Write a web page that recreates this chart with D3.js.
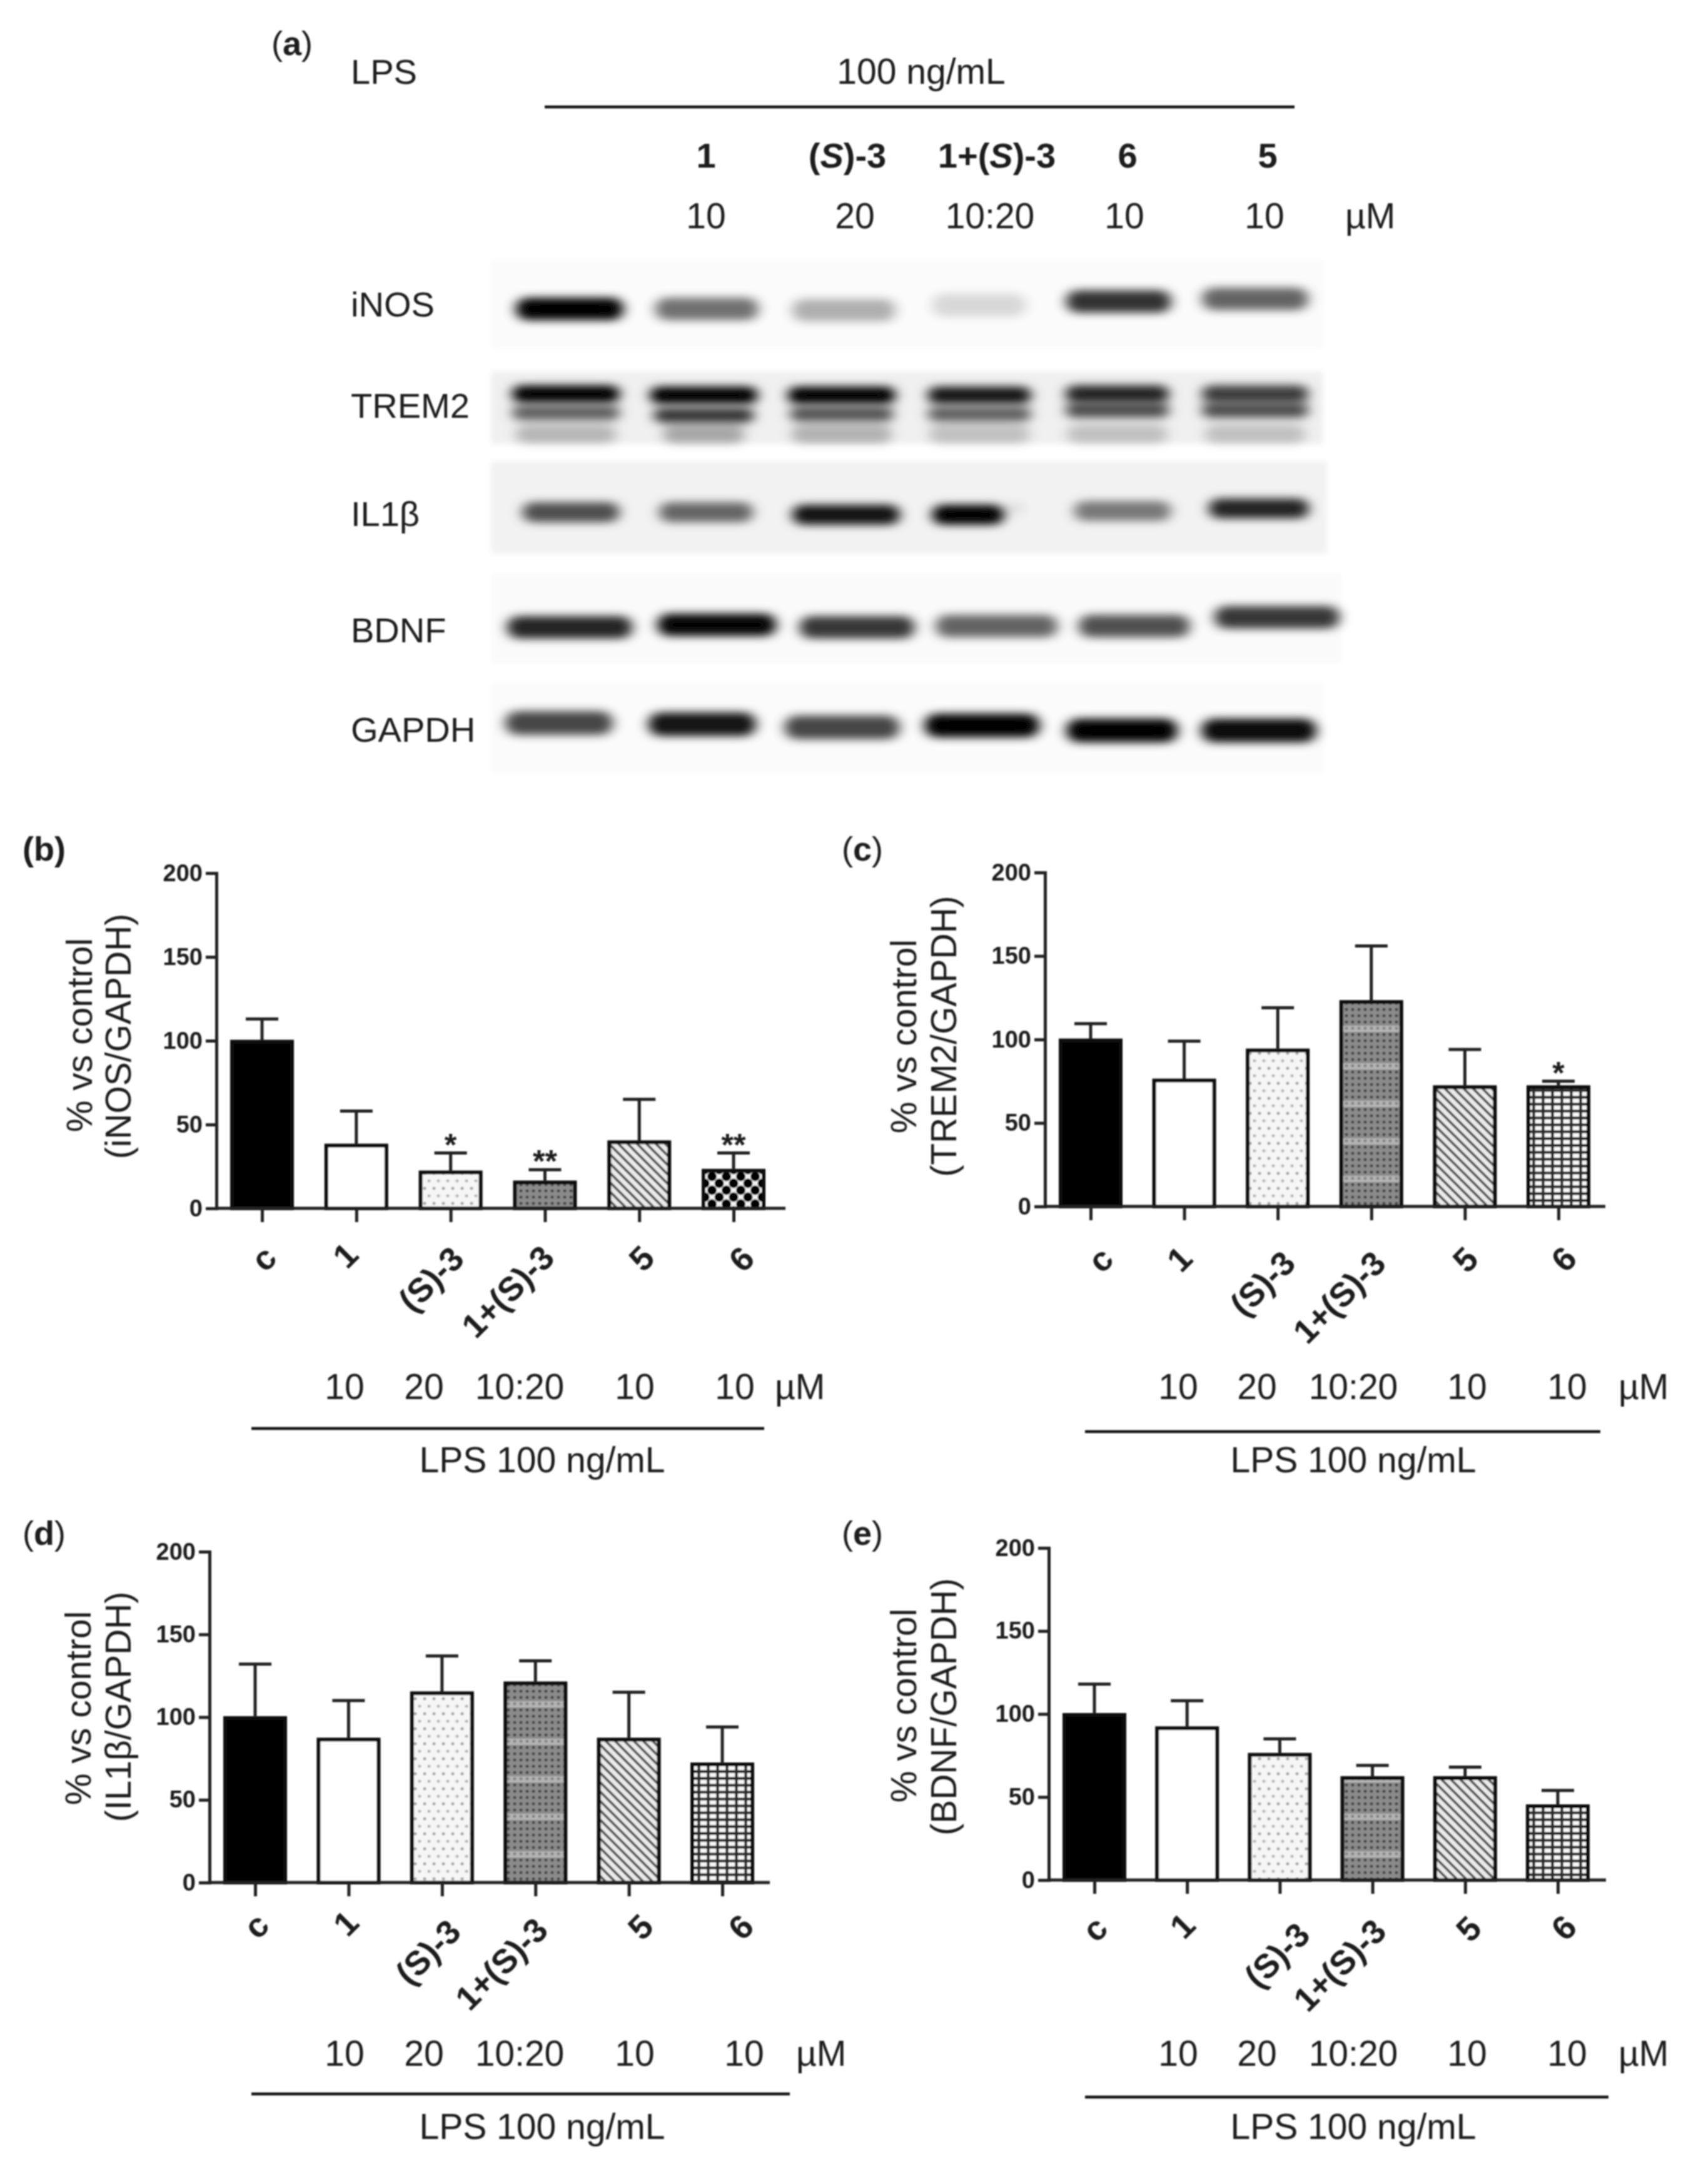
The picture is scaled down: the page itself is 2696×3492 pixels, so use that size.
<!DOCTYPE html>
<html>
<head>
<meta charset="utf-8">
<title>Western blot and densitometry</title>
<script src="https://cdn.jsdelivr.net/npm/d3@7"></script>
<style>
  html, body { margin: 0; padding: 0; background: #fff; }
  text { font-family: "Liberation Sans", Arial, sans-serif; fill: #1a1a1a; }
</style>
</head>
<body>
<div id="chart"></div>
<script>
// ---- chart values ----
var categories = ["c", "1", "(S)-3", "1+(S)-3", "5", "6"];
var yTicks = [0, 50, 100, 150, 200];
var doseLabels = ["10", "20", "10:20", "10", "10"];

var iNOSMean = [100, 38, 22, 16, 40, 23];
var iNOSTop = [113, 58, 33, 23, 65, 33];
var iNOSStars = ["", "", "*", "**", "", "**"];

var trem2Mean = [100, 76, 94, 123, 72, 72];
var trem2Top = [109.5, 99, 119, 156, 94, 75];
var trem2Stars = ["", "", "", "", "", "*"];

var il1bMean = [100, 87, 115, 121, 87, 72];
var il1bTop = [132, 110, 137, 134, 115, 94];
var il1bStars = ["", "", "", "", "", ""];

var bdnfMean = [100, 92, 76, 62, 62, 45];
var bdnfTop = [118, 108, 85, 69, 68, 54];
var bdnfStars = ["", "", "", "", "", ""];

// blot lanes, band darkness 0..1
var blotCompounds = ["1", "(S)-3", "1+(S)-3", "6", "5"];
var blotDoses = ["10", "20", "10:20", "10", "10"];
var blotProteins = ["iNOS", "TREM2", "IL1β", "BDNF", "GAPDH"];
var iNOSBands = [1, 0.55, 0.3, 0.14, 0.8, 0.6];
var trem2Upper = [1, 1, 1, 0.9, 0.85, 0.75];
var trem2Lower = [0.6, 0.78, 0.65, 0.6, 0.68, 0.68];
var trem2Smear = [0.24, 0.3, 0.26, 0.2, 0.2, 0.2];
var il1bBands = [0.68, 0.58, 0.92, 1, 0.5, 0.85];
var il1bFaint = [0, 0, 0, 0.08, 0, 0];
var bdnfBands = [0.85, 0.98, 0.78, 0.6, 0.68, 0.78];
var gapdhBands = [0.72, 0.92, 0.72, 1, 1, 0.96];

// ---- layout ----
var W = 2696, H = 3492;

var panels = [
  { letter: "b", lx: 36, ly: 1376, bold: true, mean: iNOSMean, top: iNOSTop, stars: iNOSStars, name: "(iNOS/GAPDH)",
    axisX: 346, y0: 1932, y200: 1396, xEnd: 1256, first: 419, last: 1173, titleX: [147, 209], titleY: [1655, 1657],
    labelDx: [2, -18, -32, -60, 3, 12], labelDy: [80, 75, 113, 133, 80, 81], pattern6: "checker",
    doseX: [551, 678, 831, 1015, 1175], muX: 1239, doseY: 2237, lineY: 2284, lineX: [402, 1222], lpsX: 867, lpsY: 2354 },
  { letter: "c", lx: 1346, ly: 1376, mean: trem2Mean, top: trem2Top, stars: trem2Stars, name: "(TREM2/GAPDH)",
    axisX: 1671, y0: 1929, y200: 1395, xEnd: 2567, first: 1744, last: 2492, titleX: [1465, 1529], titleY: [1657, 1657],
    labelDx: [15, -8, -25, -52, 0, 8], labelDy: [85, 84, 123, 145, 85, 84], pattern6: "grid",
    doseX: [1884, 2010, 2164, 2346, 2506], muX: 2588, doseY: 2237, lineY: 2289, lineX: [1735, 2559], lpsX: 2164, lpsY: 2354 },
  { letter: "d", lx: 36, ly: 2470, mean: il1bMean, top: il1bTop, stars: il1bStars, name: "(IL1β/GAPDH)",
    axisX: 335, y0: 3010, y200: 2481, xEnd: 1231, first: 408, last: 1155, titleX: [145, 209], titleY: [2731, 2729],
    labelDx: [1, -5, -23, -55, 18, 29], labelDy: [69, 65, 111, 130, 71, 71], pattern6: "grid",
    doseX: [551, 678, 831, 1015, 1190], muX: 1273, doseY: 3303, lineY: 3348, lineX: [402, 1263], lpsX: 867, lpsY: 3420 },
  { letter: "e", lx: 1346, ly: 2470, mean: bdnfMean, top: bdnfTop, stars: bdnfStars, name: "(BDNF/GAPDH)",
    axisX: 1677, y0: 3006, y200: 2475, xEnd: 2568, first: 1750, last: 2491, titleX: [1465, 1529], titleY: [2727, 2729],
    labelDx: [0, -8, -5, -53, 5, 9], labelDy: [78, 73, 120, 136, 78, 76], pattern6: "grid",
    doseX: [1884, 2010, 2164, 2346, 2506], muX: 2588, doseY: 3303, lineY: 3353, lineX: [1735, 2572], lpsX: 2164, lpsY: 3420 }
];

var blotBoxes = [
  { x0: 785, x1: 2116, y0: 415, y1: 558, fill: "#fbfbfb" },
  { x0: 785, x1: 2116, y0: 594, y1: 710, fill: "#f0f0f0" },
  { x0: 785, x1: 2122, y0: 738, y1: 885, fill: "#f2f2f2" },
  { x0: 785, x1: 2145, y0: 917, y1: 1060, fill: "#fafafa" },
  { x0: 785, x1: 2116, y0: 1092, y1: 1236, fill: "#fbfbfb" }
];

var blotBands = [
  { values: iNOSBands, first: 911, last: 2007, shift: [0, 0, 0, -3, 1, 0], cy: [494, 494, 496, 488, 482, 478], w: [172, 165, 165, 150, 168, 170], h: 36 },
  { values: trem2Smear, first: 905, last: 2007, shift: [0, 0, 0, 0, 0, 0], cy: [694, 694, 694, 694, 694, 694], w: [160, 130, 160, 160, 160, 160], h: 30 },
  { values: trem2Lower, first: 905, last: 2007, shift: [0, 0, 0, 0, 0, 0], cy: [660, 664, 662, 662, 656, 656], w: [172, 160, 165, 165, 165, 170], h: 24 },
  { values: trem2Upper, first: 905, last: 2007, shift: [0, 0, 0, 0, 0, 0], cy: [630, 632, 632, 632, 630, 630], w: [172, 172, 172, 165, 165, 170], h: 28 },
  { values: il1bBands, first: 913, last: 2013, shift: [0, -4, 0, -25, 2, 0], cy: [819, 819, 823, 823, 817, 813], w: [155, 150, 172, 115, 155, 160], h: 32 },
  { values: il1bFaint, first: 913, last: 2013, shift: [0, 0, 0, 50, 0, 0], cy: [819, 819, 819, 813, 819, 819], w: [0, 0, 0, 30, 0, 0], h: 18 },
  { values: bdnfBands, first: 911, last: 2042, shift: [0, 9, 7, 4, -2, 0], cy: [1003, 999, 1003, 1001, 1001, 987], w: [200, 190, 184, 195, 178, 200], h: 36 },
  { values: gapdhBands, first: 894, last: 2013, shift: [0, 5, 5, 5, 5, 0], cy: [1156, 1158, 1163, 1160, 1168, 1168], w: [172, 172, 184, 184, 178, 184], h: 38 }
];

var proteinY = [506, 668, 841, 1027, 1186];
var compoundX = [1129, 1355, 1594, 1803, 2027];
var blotDoseX = [1129, 1367, 1583, 1798, 2022];

// ---- page ----
var svg = d3.select("#chart").append("svg")
  .attr("width", W)
  .attr("height", H)
  .attr("viewBox", "0 0 " + W + " " + H)
  .style("display", "block");

svg.append("rect").attr("width", W).attr("height", H).attr("fill", "#fff");

var defs = svg.append("defs");

defs.append("filter").attr("id", "soft")
  .attr("filterUnits", "userSpaceOnUse")
  .attr("x", 0).attr("y", 0).attr("width", W).attr("height", H)
  .append("feGaussianBlur").attr("stdDeviation", 1.2);

defs.append("filter").attr("id", "band")
  .attr("x", "-20%").attr("y", "-100%").attr("width", "140%").attr("height", "300%")
  .append("feGaussianBlur").attr("stdDeviation", "10 7");

defs.append("filter").attr("id", "edge")
  .attr("x", "-5%").attr("y", "-10%").attr("width", "110%").attr("height", "120%")
  .append("feGaussianBlur").attr("stdDeviation", 4);

function addPattern(id, w, h) {
  var p = defs.append("pattern").attr("id", id)
    .attr("patternUnits", "userSpaceOnUse")
    .attr("width", w).attr("height", h);
  return p;
}

// sparse grey dots
var pDots = addPattern("dots", 15, 24);
pDots.append("rect").attr("width", 15).attr("height", 24).attr("fill", "#f6f6f6");
pDots.append("circle").attr("cx", 4).attr("cy", 4).attr("r", 2.6).attr("fill", "#aaa");
pDots.append("circle").attr("cx", 11).attr("cy", 16).attr("r", 2.6).attr("fill", "#bbb");

// dense dark dots with lighter horizontal bands
var pDense = addPattern("dense", 10, 60);
pDense.append("rect").attr("width", 10).attr("height", 60).attr("fill", "#8b8b8b");
pDense.append("rect").attr("y", 20).attr("width", 10).attr("height", 10).attr("fill", "#b4b4b4");
d3.range(0, 60, 10).forEach(function(y) {
  pDense.append("circle").attr("cx", 3).attr("cy", y + 4).attr("r", 2.6)
    .attr("fill", y === 20 ? "#888" : "#4c4c4c");
});

// diagonal stripes
var pStripes = addPattern("stripes", 15, 15);
pStripes.append("rect").attr("width", 15).attr("height", 15).attr("fill", "#eaeaea");
pStripes.append("path").attr("d", "M-4,-4L19,19M-4,11L4,19M11,-4L19,4")
  .attr("stroke", "#555").attr("stroke-width", 4);

// crosshatch grid
var pGrid = addPattern("grid", 15, 11);
pGrid.append("rect").attr("width", 15).attr("height", 11).attr("fill", "#f8f8f8");
pGrid.append("path").attr("d", "M0,5.5H15M7.5,0V11").attr("stroke", "#2a2a2a").attr("stroke-width", 4.5);

// black and white staggered checker (panel b)
var pChecker = addPattern("checker", 23, 22);
pChecker.append("rect").attr("width", 23).attr("height", 22).attr("fill", "#f4f4f4");
[[0, 0], [23, 0], [0, 22], [23, 22], [11.5, 11]].forEach(function(c) {
  pChecker.append("circle").attr("cx", c[0]).attr("cy", c[1]).attr("r", 7.5).attr("fill", "#000");
});

var root = svg.append("g").attr("filter", "url(#soft)");

function barFill(i, panel) {
  var fills = ["#000", "#fff", "url(#dots)", "url(#dense)", "url(#stripes)", "url(#" + panel.pattern6 + ")"];
  return fills[i];
}

function label(g, x, y, txt, size, weight, anchor) {
  return g.append("text")
    .attr("x", x).attr("y", y)
    .attr("font-size", size)
    .attr("font-weight", weight || "normal")
    .attr("text-anchor", anchor || "start")
    .text(txt);
}

// "(S)" gets an italic S in the blot header
function italicS(g, x, y, txt, size) {
  var t = g.append("text")
    .attr("x", x).attr("y", y)
    .attr("font-size", size)
    .attr("font-weight", "bold")
    .attr("text-anchor", "middle");
  txt.split(/(S)/).forEach(function(part) {
    t.append("tspan").attr("font-style", part === "S" ? "italic" : "normal").text(part);
  });
}

function panelLetter(g, x, y, letter, allBold) {
  var t = g.append("text").attr("x", x).attr("y", y).attr("font-size", 54);
  t.append("tspan").attr("font-weight", allBold ? "bold" : "normal").text("(");
  t.append("tspan").attr("font-weight", "bold").text(letter);
  t.append("tspan").attr("font-weight", allBold ? "bold" : "normal").text(")");
}

function drawBlot() {
  var g = root.append("g");

  g.selectAll("rect.box").data(blotBoxes).enter().append("rect")
    .attr("class", "box")
    .attr("x", function(d) { return d.x0; })
    .attr("y", function(d) { return d.y0; })
    .attr("width", function(d) { return d.x1 - d.x0; })
    .attr("height", function(d) { return d.y1 - d.y0; })
    .attr("fill", function(d) { return d.fill; })
    .attr("filter", "url(#edge)");

  blotBands.forEach(function(row) {
    var lane = d3.scalePoint().domain(d3.range(6)).range([row.first, row.last]);
    g.selectAll(null).data(row.values).enter().append("rect")
      .attr("x", function(d, i) { return lane(i) + row.shift[i] - row.w[i] / 2; })
      .attr("y", function(d, i) { return row.cy[i] - row.h / 2; })
      .attr("width", function(d, i) { return row.w[i]; })
      .attr("height", row.h)
      .attr("rx", row.h / 2)
      .attr("fill", "#000")
      .attr("fill-opacity", function(d) { return d; })
      .attr("filter", "url(#band)");
  });

  panelLetter(g, 434, 88, "a", false);
  label(g, 561, 134, "LPS", 56);
  label(g, 1473, 134, "100 ng/mL", 57, "normal", "middle");
  g.append("line")
    .attr("x1", 871).attr("x2", 2070)
    .attr("y1", 171).attr("y2", 171)
    .attr("stroke", "#111").attr("stroke-width", 4.5);

  blotCompounds.forEach(function(c, i) { italicS(g, compoundX[i], 268, c, 56); });
  blotDoses.forEach(function(d, i) { label(g, blotDoseX[i], 365, d, 57, "normal", "middle"); });
  label(g, 2151, 365, "µM", 57);
  blotProteins.forEach(function(p, i) { label(g, 561, proteinY[i], p, 56); });
}

function drawPanel(p) {
  var g = root.append("g");

  var x = d3.scalePoint().domain(categories).range([p.first, p.last]);
  var y = d3.scaleLinear().domain([0, 200]).range([p.y0, p.y200]);

  var barW = 96, capW = 52, inset = 1.5;

  // bars
  g.selectAll("rect.bar").data(p.mean).enter().append("rect")
    .attr("class", "bar")
    .attr("x", function(d, i) { return x(categories[i]) - barW / 2; })
    .attr("y", function(d) { return y(d) + inset; })
    .attr("width", barW)
    .attr("height", function(d) { return y(0) - y(d) - inset; })
    .attr("fill", function(d, i) { return barFill(i, p); })
    .attr("stroke", "#111")
    .attr("stroke-width", 6);

  // error bars (upper only)
  g.selectAll("line.stem").data(p.top).enter().append("line")
    .attr("class", "stem")
    .attr("x1", function(d, i) { return x(categories[i]); })
    .attr("x2", function(d, i) { return x(categories[i]); })
    .attr("y1", function(d, i) { return y(p.mean[i]); })
    .attr("y2", function(d) { return y(d); })
    .attr("stroke", "#222").attr("stroke-width", 5);

  g.selectAll("line.cap").data(p.top).enter().append("line")
    .attr("class", "cap")
    .attr("x1", function(d, i) { return x(categories[i]) - capW / 2; })
    .attr("x2", function(d, i) { return x(categories[i]) + capW / 2; })
    .attr("y1", function(d) { return y(d); })
    .attr("y2", function(d) { return y(d); })
    .attr("stroke", "#222").attr("stroke-width", 5);

  // significance stars
  g.selectAll("text.star").data(p.stars).enter().append("text")
    .attr("class", "star")
    .attr("x", function(d, i) { return x(categories[i]); })
    .attr("y", function(d, i) { return y(p.top[i]) + 4; })
    .attr("font-size", 50)
    .attr("font-weight", "bold")
    .attr("text-anchor", "middle")
    .text(function(d) { return d; });

  // axes
  var yAxis = d3.axisLeft(y).tickValues(yTicks).tickSize(17).tickPadding(5);
  var yG = g.append("g").attr("transform", "translate(" + p.axisX + ",0)").call(yAxis);
  yG.selectAll("path.domain").attr("stroke", "#222").attr("stroke-width", 5);
  yG.selectAll("line").attr("stroke", "#222").attr("stroke-width", 5);
  yG.selectAll("text").attr("font-size", 38).attr("font-weight", "bold")
    .style("font-family", "\"Liberation Sans\", Arial, sans-serif").attr("fill", "#1a1a1a");

  var xAxis = d3.axisBottom(x).tickSize(22);
  var xG = g.append("g").attr("transform", "translate(0," + p.y0 + ")").call(xAxis);
  xG.select("path.domain").remove();
  xG.selectAll("line").attr("stroke", "#222").attr("stroke-width", 5);
  xG.selectAll("text")
    .attr("font-size", 54).attr("font-weight", "bold")
    .style("font-family", "\"Liberation Sans\", Arial, sans-serif").attr("fill", "#1a1a1a")
    .attr("text-anchor", "middle")
    .attr("y", 0).attr("dy", "0.35em")
    .attr("transform", function(d, i) {
      return "translate(" + p.labelDx[i] + "," + p.labelDy[i] + ") rotate(-45)";
    });

  g.append("line")
    .attr("x1", p.axisX).attr("x2", p.xEnd)
    .attr("y1", p.y0).attr("y2", p.y0)
    .attr("stroke", "#222").attr("stroke-width", 5);

  // y title, two lines
  ["% vs control", p.name].forEach(function(txt, i) {
    g.append("text")
      .attr("transform", "translate(" + p.titleX[i] + "," + p.titleY[i] + ") rotate(-90)")
      .attr("font-size", 57)
      .attr("text-anchor", "middle")
      .text(txt);
  });

  panelLetter(g, p.lx, p.ly, p.letter, p.bold);

  // dose row and LPS bracket
  doseLabels.forEach(function(d, i) { label(g, p.doseX[i], p.doseY, d, 57, "normal", "middle"); });
  label(g, p.muX, p.doseY, "µM", 57);
  g.append("line")
    .attr("x1", p.lineX[0]).attr("x2", p.lineX[1])
    .attr("y1", p.lineY).attr("y2", p.lineY)
    .attr("stroke", "#111").attr("stroke-width", 4.5);
  label(g, p.lpsX, p.lpsY, "LPS 100 ng/mL", 57, "normal", "middle");
}

drawBlot();
panels.forEach(drawPanel);
</script>
</body>
</html>
